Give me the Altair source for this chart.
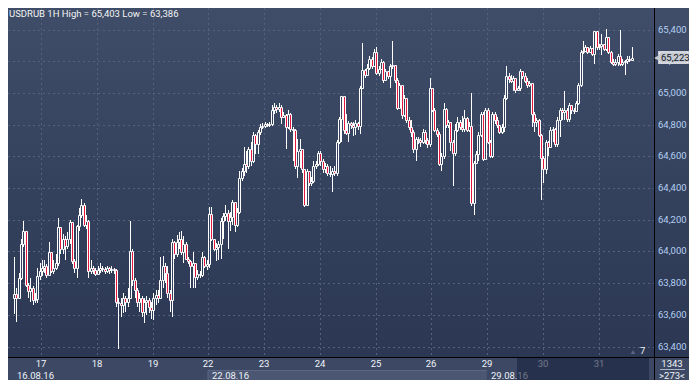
import altair as alt
import pandas as pd

# ---------------- data ----------------
symbol = "USDRUB"
timeframe = "1H"
first_open = 63709

close = [
    63734, 63709, 63832, 64047, 64127, 63789, 63752, 63770, 63691, 63697,
    63844, 63875, 63893, 63906, 63850, 63998, 63875, 63893, 63924, 64152,
    64016, 64078, 64035, 64078, 64183, 63937, 63893, 64158, 64232, 64293,
    64170, 64189, 63875, 63893, 63881, 63857, 63881, 63893, 63887, 63875,
    63893, 63881, 63887, 63881, 63684, 63672, 63660, 63709, 63678, 63709,
    64004, 63820, 63758, 63684, 63709, 63617, 63678, 63691, 63648, 63629,
    63709, 63727, 63709, 63820, 63906, 63863, 63740, 63691, 64060, 63986,
    64060, 64078, 63998, 64047, 63955, 63937, 63906, 63930, 63838, 63857,
    63850, 63967, 63906, 63918, 64238, 64078, 64016, 64029, 64047, 64189,
    64226, 64244, 64189, 64219, 64312, 64164, 64250, 64465, 64509, 64552,
    64539, 64644, 64570, 64736, 64675, 64755, 64785, 64791, 64804, 64798,
    64804, 64890, 64914, 64896, 64914, 64847, 64859, 64785, 64865, 64773,
    64767, 64539, 64632, 64644, 64521, 64293, 64509, 64435, 64447, 64539,
    64552, 64619, 64570, 64521, 64539, 64496, 64490, 64509, 64496, 64693,
    64834, 64982, 64767, 64748, 64810, 64798, 64785, 64810, 64791, 65031,
    65142, 65111, 65160, 65216, 65173, 65259, 65124, 65154, 65197, 65080,
    65136, 65105, 65173, 65179, 65080, 64908, 65050, 64859, 64970, 64828,
    64785, 64755, 64644, 64711, 64705, 64693, 64755, 64705, 64675, 65031,
    64890, 64767, 64742, 64552, 64601, 64896, 64798, 64816, 64693, 64619,
    64767, 64816, 64785, 64773, 64841, 64767, 64791, 64306, 64558, 64613,
    64736, 64865, 64582, 64890, 64693, 64601, 64865, 64828, 64798, 64755,
    64785, 64970, 65105, 65087, 65074, 65093, 65019, 65031, 65136, 65105,
    65074, 65050, 65062, 64865, 64816, 64828, 64736, 64588, 64521, 64693,
    64662, 64767, 64773, 64675, 64828, 64890, 64878, 64890, 64834, 64927,
    64890, 64884, 64939, 65050, 65259, 65265, 65290, 65259, 65283, 65247,
    65388, 65290, 65296, 65308, 65277, 65351, 65259, 65197, 65185, 65197,
    65234, 65185, 65197, 65203, 65216, 65210, 65223,
]

high = [
    63967, 63770, 63863, 64078, 64189, 64127, 63801, 63832, 63783, 63740,
    63893, 63924, 63943, 63943, 63918, 64060, 63998, 63943, 63986, 64213,
    64152, 64109, 64096, 64121, 64201, 64170, 63955, 64170, 64275, 64330,
    64306, 64232, 64201, 63943, 63906, 63893, 63906, 63924, 63906, 63900,
    63906, 63900, 63906, 63893, 63887, 63709, 63709, 63740, 63721, 63770,
    64189, 64016, 63832, 63770, 63740, 63721, 63709, 63721, 63709, 63678,
    63740, 63758, 63758, 63967, 63973, 63924, 63906, 63758, 64078, 64066,
    64103, 64121, 64127, 64096, 64060, 63967, 63943, 63998, 63930, 63881,
    63875, 63998, 63973, 63943, 64281, 64281, 64078, 64053, 64066, 64213,
    64244, 64293, 64263, 64250, 64324, 64312, 64275, 64509, 64527, 64662,
    64632, 64662, 64693, 64755, 64742, 64767, 64804, 64810, 64816, 64810,
    64816, 64921, 64939, 64927, 64939, 64921, 64878, 64865, 64890, 64871,
    64785, 64773, 64711, 64711, 64644, 64521, 64521, 64509, 64472, 64570,
    64570, 64632, 64632, 64582, 64558, 64552, 64539, 64527, 64539, 64705,
    64847, 64982, 64982, 64865, 64822, 64816, 64816, 64828, 64816, 65044,
    65314, 65148, 65185, 65234, 65228, 65277, 65290, 65173, 65216, 65203,
    65148, 65136, 65185, 65326, 65179, 65093, 65062, 65031, 64988, 64939,
    64847, 64828, 64767, 64724, 64724, 64718, 64773, 64767, 64718, 65093,
    65031, 64902, 64779, 64755, 64619, 64939, 64908, 64828, 64816, 64705,
    64803, 64847, 64828, 64853, 64890, 64847, 64816, 65000, 64570, 64632,
    64755, 64877, 64877, 64908, 64902, 64705, 64877, 64877, 64847, 64791,
    64803, 64988, 65167, 65123, 65111, 65105, 65093, 65044, 65148, 65136,
    65123, 65093, 65074, 65062, 64877, 64841, 64834, 64742, 64601, 64705,
    64699, 64785, 64785, 64779, 64847, 64908, 64908, 65013, 64902, 64939,
    64927, 64908, 64951, 65062, 65271, 65326, 65302, 65290, 65296, 65283,
    65394, 65388, 65308, 65370, 65302, 65403, 65351, 65265, 65216, 65216,
    65247, 65400, 65216, 65210, 65234, 65234, 65290,
]

low = [
    63604, 63555, 63697, 63820, 64029, 63777, 63709, 63678, 63660, 63672,
    63672, 63820, 63844, 63863, 63832, 63844, 63863, 63857, 63881, 63906,
    63986, 63986, 63943, 64016, 64047, 63918, 63863, 63832, 64127, 64213,
    64152, 64140, 63832, 63857, 63857, 63844, 63850, 63863, 63869, 63857,
    63863, 63857, 63863, 63857, 63648, 63386, 63586, 63611, 63617, 63648,
    63697, 63783, 63709, 63648, 63617, 63586, 63549, 63598, 63611, 63574,
    63568, 63660, 63672, 63697, 63770, 63801, 63709, 63617, 63586, 63955,
    63967, 64016, 63980, 63924, 63943, 63918, 63771, 63771, 63771, 63820,
    63832, 63838, 63893, 63881, 63893, 64065, 64004, 63937, 63943, 63955,
    64078, 64189, 64016, 64127, 64170, 64121, 64152, 64238, 64447, 64478,
    64496, 64521, 64539, 64557, 64613, 64613, 64736, 64773, 64779, 64785,
    64785, 64791, 64865, 64871, 64877, 64804, 64841, 64644, 64773, 64755,
    64570, 64521, 64465, 64527, 64496, 64281, 64287, 64416, 64416, 64435,
    64521, 64539, 64539, 64496, 64496, 64478, 64472, 64373, 64478, 64478,
    64680, 64693, 64742, 64736, 64693, 64773, 64730, 64736, 64767, 64742,
    65025, 65093, 65105, 65142, 65148, 65185, 65111, 65105, 65142, 65062,
    65074, 65086, 65031, 65154, 65062, 64890, 64896, 64834, 64847, 64810,
    64767, 64724, 64619, 64570, 64680, 64662, 64680, 64680, 64650, 64662,
    64877, 64755, 64724, 64539, 64509, 64582, 64779, 64779, 64631, 64416,
    64601, 64755, 64767, 64755, 64755, 64755, 64755, 64287, 64231, 64551,
    64570, 64723, 64570, 64582, 64680, 64588, 64588, 64803, 64779, 64742,
    64742, 64755, 64957, 65062, 65062, 65013, 65000, 65013, 65013, 65086,
    65062, 65031, 65037, 64785, 64755, 64785, 64723, 64324, 64435, 64490,
    64601, 64650, 64693, 64662, 64662, 64723, 64828, 64828, 64816, 64816,
    64865, 64865, 64877, 64927, 65037, 65246, 65259, 65246, 65253, 65234,
    65185, 65271, 65271, 65240, 65265, 65265, 65246, 65185, 65173, 65173,
    65173, 65173, 65173, 65111, 65185, 65197, 65203,
]

price_ticks = [63400, 63600, 63800, 64000, 64200, 64400, 64600, 64800, 65000, 65200, 65400]
day_labels = ["17", "18", "19", "22", "23", "24", "25", "26", "29", "30", "31"]
day_start_bar = [12, 36, 60, 84, 108, 132, 156, 180, 204, 228, 252]
week_labels = ["16.08.16", "22.08.16", "29.08.16"]
week_start_bar = [0, 84, 204]
bars_total_label = "1343"
visible_label = ">273<"
scroll_label = "7"
overlay_start_bar = 216.8

# ---------------- styling / layout ----------------
W, H = 646, 349          # plot area
FULL_W, FULL_H = 681, 372
X_DOMAIN = [-0.42, 273.5]
Y_DOMAIN = [63334, 65536]
FONT = "Roboto"
RED = "#e5173f"
UPFILL = "#34415d"
GRID = "#56627d"

n = len(close)
assert len(high) == n and len(low) == n
opens = [first_open] + close[:-1]
highs = [max(h, o, c) for h, o, c in zip(high, opens, close)]
lows = [min(l, o, c) for l, o, c in zip(low, opens, close)]
df = pd.DataFrame({"i": list(range(n)), "o": opens, "h": highs, "l": lows, "c": close})

xs = alt.Scale(domain=X_DOMAIN, nice=False, zero=False, round=True)
ys = alt.Scale(domain=Y_DOMAIN, nice=False, zero=False, round=True)
one = pd.DataFrame({"k": [0]})

bg = alt.Chart(one).mark_rect(
    fill=alt.Gradient(
        gradient="linear",
        stops=[alt.GradientStop(color="#3f4d68", offset=0),
               alt.GradientStop(color="#2b3753", offset=1)],
        x1=0, x2=0, y1=0, y2=1,
    )
).encode(x=alt.value(0), x2=alt.value(FULL_W), y=alt.value(0), y2=alt.value(H))

band = alt.Chart(one).mark_rect(fill="#3d4964").encode(
    x=alt.value(0), x2=alt.value(FULL_W), y=alt.value(H), y2=alt.value(FULL_H))

wk_start = [X_DOMAIN[0] if s == 0 else s - 0.25 for s in week_start_bar]
wk_end = wk_start[1:] + [X_DOMAIN[1]]
weeks = pd.DataFrame({"s": wk_start, "e": wk_end, "t": week_labels,
                      "alt": [k % 2 == 1 for k in range(len(week_labels))]})
week_boxes = alt.Chart(weeks).mark_rect(strokeWidth=1).encode(
    x=alt.X("s:Q", scale=xs, axis=None), x2="e:Q",
    y=alt.value(H + 13.5), y2=alt.value(FULL_H + 2),
    fill=alt.condition("datum.alt", alt.value("#4b5772"), alt.value("#3d4964")),
    stroke=alt.condition("datum.alt", alt.value("#5b6783"), alt.value("#3d4964")),
)
week_text = alt.Chart(weeks).mark_text(
    align="left", baseline="middle", dx=4, font=FONT, fontSize=9.5, color="#f0f3f8"
).encode(x=alt.X("s:Q", scale=xs, axis=None), y=alt.value(H + 18.5), text="t:N")

ticks = pd.DataFrame({"p": price_ticks})
hgrid = alt.Chart(ticks).mark_rule(color=GRID, strokeDash=[2, 3], strokeWidth=1, yOffset=0.5).encode(
    y=alt.Y("p:Q", scale=ys, axis=None), x=alt.value(0), x2=alt.value(W))

days = pd.DataFrame({"d": [b - 0.24 for b in day_start_bar], "t": day_labels})
vgrid = alt.Chart(days).mark_rule(color=GRID, strokeDash=[2, 3], strokeWidth=1, xOffset=0.5).encode(
    x=alt.X("d:Q", scale=xs, axis=None), y=alt.value(0), y2=alt.value(H))
day_text = alt.Chart(days).mark_text(
    align="center", baseline="middle", font=FONT, fontSize=9.5, color="#f0f3f8"
).encode(x=alt.X("d:Q", scale=xs, axis=None), y=alt.value(H + 7), text="t:N")

wicks = alt.Chart(df).mark_rule(color="#ffffff", strokeWidth=1, xOffset=0.5).encode(
    x=alt.X("i:Q", scale=xs, axis=None),
    y=alt.Y("l:Q", scale=ys, axis=None), y2="h:Q")

bodies = alt.Chart(df).mark_bar(
    size=2, stroke="#ffffff", strokeWidth=1, xOffset=0.5, yOffset=0.5, y2Offset=0.5,
    orient="vertical"
).encode(
    x=alt.X("i:Q", scale=xs, axis=None),
    y=alt.Y("o:Q", scale=ys, axis=None), y2="c:Q",
    fill=alt.condition("datum.c < datum.o", alt.value(RED), alt.value(UPFILL)),
)

overlay = alt.Chart(pd.DataFrame({"s": [overlay_start_bar], "e": [X_DOMAIN[1]]})).mark_rect(
    fill="#18223e", opacity=0.6
).encode(x=alt.X("s:Q", scale=xs, axis=None), x2="e:Q", y=alt.value(H), y2=alt.value(FULL_H))

hline = alt.Chart(one).mark_rule(color="#000000", strokeWidth=1).encode(
    x=alt.value(0), x2=alt.value(FULL_W), y=alt.value(H + 0.5))
vline = alt.Chart(one).mark_rule(color="#000000", strokeWidth=1).encode(
    x=alt.value(W + 0.5), y=alt.value(0), y2=alt.value(FULL_H))

ylabels = alt.Chart(ticks).mark_text(
    align="left", baseline="middle", font=FONT, fontSize=9.5, color="#b3d0f2"
).encode(x=alt.value(W + 4), y=alt.Y("p:Q", scale=ys, axis=None), text=alt.Text("p:Q", format=","))

cur = pd.DataFrame({"p": [close[-1]]})
cur_box = alt.Chart(cur).transform_calculate(lo="datum.p - 40", hi="datum.p + 40").mark_rect(
    fill="#c5c9d1").encode(x=alt.value(W + 4), x2=alt.value(FULL_W),
                          y=alt.Y("lo:Q", scale=ys, axis=None), y2="hi:Q")
cur_focus = alt.Chart(cur).transform_calculate(lo="datum.p - 33", hi="datum.p + 33").mark_rect(
    fill=None, stroke="#ffffff", strokeWidth=1, strokeDash=[1, 1]).encode(
    x=alt.value(W + 5.5), x2=alt.value(FULL_W - 1.5),
    y=alt.Y("lo:Q", scale=ys, axis=None), y2="hi:Q")
cur_arrow = alt.Chart(cur).mark_point(
    shape="triangle-left", filled=True, size=45, color="#c5c9d1", opacity=1
).encode(x=alt.value(W + 3), y=alt.Y("p:Q", scale=ys, axis=None))
cur_text = alt.Chart(cur).mark_text(
    align="left", baseline="middle", font=FONT, fontSize=9.5, color="#10141c"
).encode(x=alt.value(W + 7), y=alt.Y("p:Q", scale=ys, axis=None), text=alt.Text("p:Q", format=","))

title_df = pd.DataFrame({"t": [f"{symbol} {timeframe} High = {max(highs):,} Low = {min(lows):,}"]})
title = alt.Chart(title_df).mark_text(
    align="left", baseline="top", font=FONT, fontSize=9.5, color="#f4f4f4"
).encode(x=alt.value(1), y=alt.value(1), text="t:N")

info_top = alt.Chart(pd.DataFrame({"t": [bars_total_label]})).mark_text(
    align="center", baseline="middle", font=FONT, fontSize=9.5, color="#f0f3f8"
).encode(x=alt.value(664), y=alt.value(H + 7), text="t:N")
info_bottom = alt.Chart(pd.DataFrame({"t": [visible_label]})).mark_text(
    align="center", baseline="middle", font=FONT, fontSize=9.5, color="#f0f3f8"
).encode(x=alt.value(664), y=alt.value(H + 18.5), text="t:N")
info_line = alt.Chart(one).mark_rule(color="#aab4c4", strokeWidth=1).encode(
    x=alt.value(652), x2=alt.value(677), y=alt.value(H + 12.5))

scroll_text = alt.Chart(pd.DataFrame({"t": [scroll_label]})).mark_text(
    align="left", baseline="middle", font=FONT, fontSize=9.5, color="#f0f3f8"
).encode(x=alt.value(632), y=alt.value(H - 6), text="t:N")
scroll_tri = alt.Chart(one).mark_point(
    shape="triangle-up", filled=True, size=20, color="#5a6680", opacity=1
).encode(x=alt.value(625), y=alt.value(H - 5))

chart = alt.layer(
    bg, band, week_boxes, hgrid, vgrid, wicks, bodies, day_text, week_text, overlay,
    hline, vline, ylabels, cur_box, cur_focus, cur_arrow, cur_text, title,
    info_top, info_bottom, info_line, scroll_tri, scroll_text,
).properties(
    width=W, height=H,
    padding={"left": 0, "top": 0, "right": FULL_W - W, "bottom": FULL_H - H},
    autosize=alt.AutoSizeParams(type="none"),
    background="#3a4763",
).configure_view(stroke=None)

chart.save("out.html", embed_options={"renderer": "svg", "actions": False})
